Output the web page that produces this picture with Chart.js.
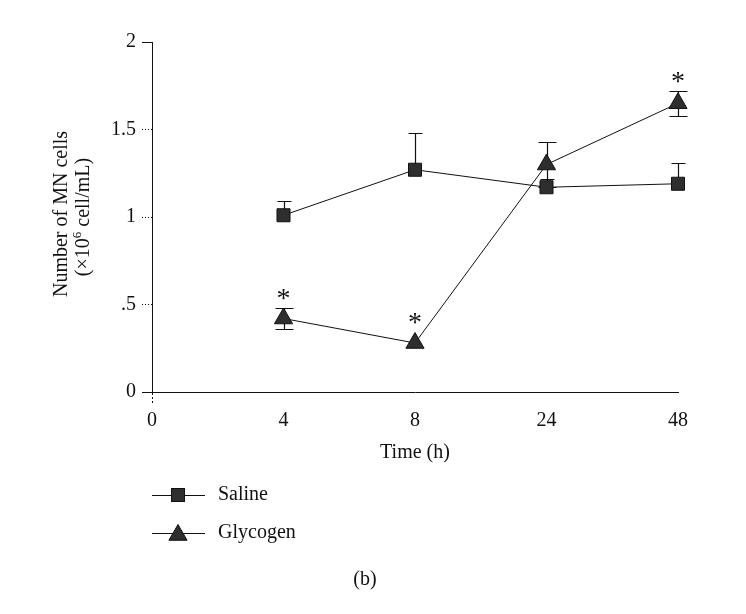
<!DOCTYPE html>
<html>
<head>
<meta charset="utf-8">
<script src="https://cdn.jsdelivr.net/npm/chart.js@4/dist/chart.umd.min.js"></script>
<style>
html,body{margin:0;padding:0;background:#fff;}
#wrap{width:746px;height:614px;position:relative;}
</style>
</head>
<body>
<div id="wrap"><canvas id="c" width="746" height="614"></canvas></div>
<script>
// ---- data ----
const timeLabels = ['0', '4', '8', '24', '48'];
const yTickValues = [0, 0.5, 1, 1.5, 2];
const yTickLabels = ['0', '.5', '1', '1.5', '2'];
const salineMean = [null, 1.01, 1.27, 1.17, 1.19];
const salineErr  = [null, 0.08, 0.21, 0.05, 0.12];
const glycoMean  = [null, 0.42, 0.28, 1.30, 1.65];
const glycoErr   = [null, 0.06, 0, 0.13, 0.07];
const glycoSignif = [false, true, true, false, true];
const seriesNames = ['Saline', 'Glycogen'];
const xTitle = 'Time (h)';
const yTitle1 = 'Number of MN cells';
const panelLabel = '(b)';

const FONT = '"Liberation Serif", "Times New Roman", serif';
const INK = '#111';
const FILL = '#2e2e2e';

function drawSquare(ctx, x, y, s) {
  ctx.fillStyle = FILL; ctx.strokeStyle = INK; ctx.lineWidth = 1;
  ctx.fillRect(x - s/2, y - s/2, s, s);
  ctx.strokeRect(x - s/2, y - s/2, s, s);
}
function drawTri(ctx, x, y, r) {
  const w = Math.cos(Math.PI/6) * r;
  ctx.fillStyle = FILL; ctx.strokeStyle = INK; ctx.lineWidth = 1;
  ctx.beginPath();
  ctx.moveTo(x, y - r);
  ctx.lineTo(x + w, y + r/2);
  ctx.lineTo(x - w, y + r/2);
  ctx.closePath();
  ctx.fill(); ctx.stroke();
}

const extras = {
  id: 'extras',
  beforeDatasetsDraw(chart) {
    const ctx = chart.ctx, xs = chart.scales.x, ys = chart.scales.y;
    ctx.save();
    ctx.strokeStyle = INK; ctx.lineWidth = 1.2;
    salineMean.forEach((m, i) => {
      if (m == null || !salineErr[i]) return;
      const x = Math.round(xs.getPixelForValue(i)) + 0.5;
      const y0 = ys.getPixelForValue(m), y1 = Math.round(ys.getPixelForValue(m + salineErr[i])) + 0.5;
      ctx.beginPath(); ctx.moveTo(x, y0); ctx.lineTo(x, y1);
      ctx.moveTo(x - 7, y1); ctx.lineTo(x + 7, y1); ctx.stroke();
    });
    glycoMean.forEach((m, i) => {
      if (m == null || !glycoErr[i]) return;
      const x = Math.round(xs.getPixelForValue(i)) + 0.5;
      const yt = Math.round(ys.getPixelForValue(m + glycoErr[i])) + 0.5;
      const yb = Math.round(ys.getPixelForValue(m - glycoErr[i])) + 0.5;
      ctx.beginPath(); ctx.moveTo(x, yt); ctx.lineTo(x, yb);
      ctx.moveTo(x - 9, yt); ctx.lineTo(x + 9, yt);
      ctx.moveTo(x - 9, yb); ctx.lineTo(x + 9, yb); ctx.stroke();
    });
    ctx.restore();
  },
  afterDraw(chart) {
    const ctx = chart.ctx, xs = chart.scales.x, ys = chart.scales.y;
    const a = chart.chartArea;
    ctx.save();
    ctx.strokeStyle = INK; ctx.lineWidth = 1;
    ctx.beginPath(); ctx.moveTo(a.left - 10, a.bottom + 0.5); ctx.lineTo(a.left, a.bottom + 0.5); ctx.stroke();
    // asterisks
    ctx.fillStyle = INK;
    ctx.font = '28px ' + FONT;
    ctx.textAlign = 'center'; ctx.textBaseline = 'middle';
    glycoMean.forEach((m, i) => {
      if (m == null || !glycoSignif[i]) return;
      const x = xs.getPixelForValue(i);
      const top = Math.min(ys.getPixelForValue(m + glycoErr[i]), ys.getPixelForValue(m) - 10.5);
      ctx.fillText('*', x, top - 8.5);
    });
    // x title
    ctx.font = '20px ' + FONT;
    ctx.textBaseline = 'middle';
    ctx.fillText(xTitle, (a.left + a.right) / 2, 453);
    // y title
    ctx.save();
    ctx.translate(62, 214);
    ctx.rotate(-Math.PI / 2);
    ctx.textAlign = 'center';
    ctx.fillText(yTitle1, 0, 0);
    ctx.restore();
    ctx.save();
    ctx.translate(84, 217);
    ctx.rotate(-Math.PI / 2);
    const p1 = '(\u00d710', sup = '6', p2 = ' cell/mL)';
    ctx.font = '20px ' + FONT;
    const w1 = ctx.measureText(p1).width, w3 = ctx.measureText(p2).width;
    ctx.font = '13px ' + FONT;
    const w2 = ctx.measureText(sup).width;
    let xx = -(w1 + w2 + w3) / 2;
    ctx.textAlign = 'left';
    ctx.font = '20px ' + FONT; ctx.fillText(p1, xx, 0); xx += w1;
    ctx.font = '13px ' + FONT; ctx.fillText(sup, xx, -6); xx += w2;
    ctx.font = '20px ' + FONT; ctx.fillText(p2, xx, 0);
    ctx.restore();
    // legend
    const lx0 = 152, lx1 = 205, mx = 178, tx = 218;
    const ly = [495, 533];
    ctx.strokeStyle = INK; ctx.lineWidth = 1;
    ly.forEach(y => { ctx.beginPath(); ctx.moveTo(lx0, y + 0.5); ctx.lineTo(lx1, y + 0.5); ctx.stroke(); });
    drawSquare(ctx, mx, ly[0], 13);
    drawTri(ctx, mx, ly[1] + 2, 10.5);
    ctx.fillStyle = INK;
    ctx.font = '20px ' + FONT;
    ctx.textAlign = 'left'; ctx.textBaseline = 'middle';
    ctx.fillText(seriesNames[0], tx, ly[0]);
    ctx.fillText(seriesNames[1], tx, ly[1]);
    ctx.textAlign = 'center';
    ctx.fillText(panelLabel, 365, 580);
    ctx.restore();
  }
};

new Chart(document.getElementById('c'), {
  type: 'line',
  data: {
    labels: timeLabels,
    datasets: [
      {
        label: seriesNames[0], data: salineMean,
        borderColor: INK, borderWidth: 1, tension: 0,
        pointStyle: 'rect', pointRadius: 9.2, pointHoverRadius: 9.2,
        pointBackgroundColor: FILL, pointBorderColor: INK, pointBorderWidth: 1
      },
      {
        label: seriesNames[1], data: glycoMean,
        borderColor: INK, borderWidth: 1, tension: 0,
        pointStyle: 'triangle', pointRadius: 10.5, pointHoverRadius: 10.5,
        pointBackgroundColor: FILL, pointBorderColor: INK, pointBorderWidth: 1
      }
    ]
  },
  options: {
    responsive: false,
    animation: false,
    events: [],
    layout: { padding: { left: 0, top: 42, right: 68, bottom: 0 } },
    plugins: { legend: { display: false }, tooltip: { enabled: false } },
    scales: {
      x: {
        type: 'category',
        offset: false,
        afterFit(s) { s.height = 222; },
        grid: {
          drawOnChartArea: false, drawTicks: true, tickLength: 11,
          tickColor: (c) => c.index === 0 ? INK : 'rgba(0,0,0,0)',
          tickBorderDash: [2, 2]
        },
        border: { display: true, color: INK, width: 1 },
        ticks: { color: INK, font: { family: FONT, size: 20 }, padding: 6, maxRotation: 0, autoSkip: false }
      },
      y: {
        min: 0, max: 2,
        afterFit(s) { s.width = 152; },
        afterBuildTicks(s) { s.ticks = yTickValues.map(v => ({ value: v })); },
        grid: {
          drawOnChartArea: false, drawTicks: true, tickLength: 10,
          tickColor: INK,
          tickBorderDash: (c) => (c.index === 0 || c.index === yTickValues.length - 1) ? [] : [1, 2]
        },
        border: { display: true, color: INK, width: 1, dash: [2, 2] },
        ticks: {
          color: INK, font: { family: FONT, size: 20 }, padding: 6,
          callback: (v, i) => yTickLabels[i]
        }
      }
    }
  },
  plugins: [extras]
});
</script>
</body>
</html>
